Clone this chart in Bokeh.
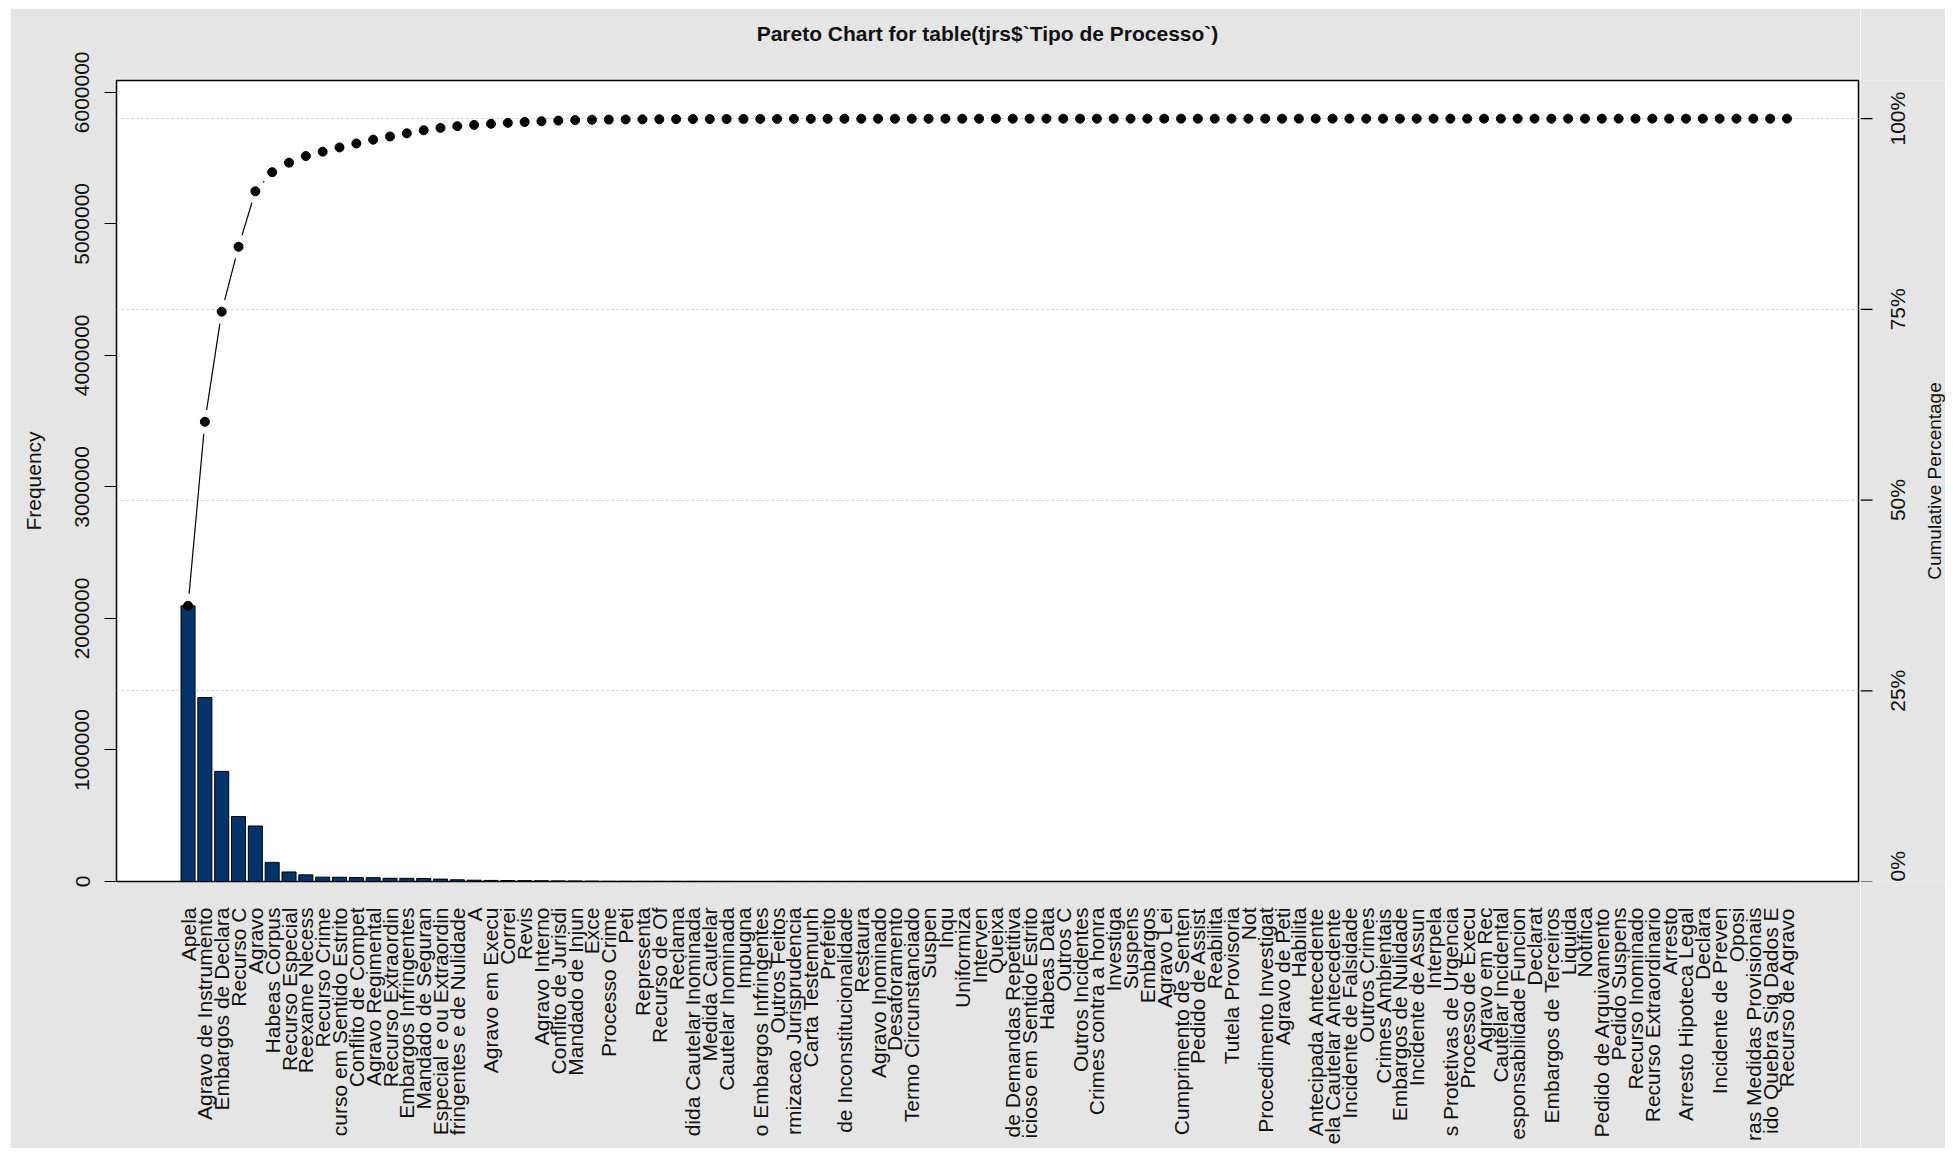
import math
import numpy as np
from bokeh.plotting import figure
from bokeh.models import Range1d, LinearAxis, FixedTicker, Spacer
from bokeh.layouts import row, column
from bokeh.core.properties import value
from bokeh.embed import file_html
from bokeh.resources import INLINE

categories = [
    "Apela", "Agravo de Instrumento", "Embargos de Declara", "Recurso C", "Agravo",
    "Habeas Corpus", "Recurso Especial", "Reexame Necess", "Recurso Crime",
    "curso em Sentido Estrito", "Conflito de Compet", "Agravo Regimental",
    "Recurso Extraordin", "Embargos Infringentes", "Mandado de Seguran",
    "Especial e ou Extraordin", "fringentes e de Nulidade", "A", "Agravo em Execu",
    "Correi", "Revis", "Agravo Interno", "Conflito de Jurisdi", "Mandado de Injun",
    "Exce", "Processo Crime", "Peti", "Representa", "Recurso de Of", "Reclama",
    "dida Cautelar Inominada", "Medida Cautelar", "Cautelar Inominada", "Impugna",
    "o Embargos Infringentes", "Outros Feitos", "rmizacao Jurisprudencia",
    "Carta Testemunh", "Prefeito", "de Inconstitucionalidade", "Restaura",
    "Agravo Inominado", "Desaforamento", "Termo Circunstanciado", "Suspen", "Inqu",
    "Uniformiza", "Interven", "Queixa", "de Demandas Repetitiva",
    "icioso em Sentido Estrito", "Habeas Data", "Outros C", "Outros Incidentes",
    "Crimes contra a honra", "Investiga", "Suspens", "Embargos", "Agravo Lei",
    "Cumprimento de Senten", "Pedido de Assist", "Reabilita", "Tutela Provisoria",
    "Not", "Procedimento Investigat", "Agravo de Peti", "Habilita",
    "Antecipada Antecedente", "ela Cautelar Antecedente", "Incidente de Falsidade",
    "Outros Crimes", "Crimes Ambientais", "Embargos de Nulidade", "Incidente de Assun",
    "Interpela", "s Protetivas de Urgencia", "Processo de Execu", "Agravo em Rec",
    "Cautelar Incidental", "esponsabilidade Funcion", "Declarat",
    "Embargos de Terceiros", "Liquida", "Notifica", "Pedido de Arquivamento",
    "Pedido Suspens", "Recurso Inominado", "Recurso Extraordinario", "Arresto",
    "Arresto Hipoteca Legal", "Declara", "Incidente de Preven", "Oposi",
    "ras Medidas Provisionais", "ido Quebra Sig Dados E", "Recurso de Agravo",
]

frequencies = [
    2096312, 1398745, 837120, 493410, 421870, 145230, 72410, 50380, 33150, 32240,
    30120, 28950, 24310, 23980, 23120, 18240, 12960, 9870, 8120, 7340,
    6580, 5620, 4710, 3890, 2760, 1150, 980, 850, 720, 610,
    520, 450, 390, 340, 300, 260, 230, 200, 175, 150,
    130, 115, 100, 88, 76, 66, 58, 50, 44, 38,
    33, 29, 25, 22, 19, 17, 15, 13, 11, 10,
    9, 8, 7, 6, 6, 5, 5, 4, 4, 4,
    3, 3, 3, 3, 2, 2, 2, 2, 2, 2,
    1, 1, 1, 1, 1, 1, 1, 1, 1, 1,
    1, 1, 1, 1, 1, 1,
]

freq_ticks = [0, 1000000, 2000000, 3000000, 4000000, 5000000, 6000000]
pct_ticks = [0, 25, 50, 75, 100]
pct_labels = ["0%", "25%", "50%", "75%", "100%"]
title_text = "Pareto Chart for table(tjrs$`Tipo de Processo`)"

n = len(categories)
total = float(sum(frequencies))
cum = np.cumsum(frequencies).astype(float)
xs = np.arange(n) + 0.5
pct_pos = [total * t / 100.0 for t in pct_ticks]

FONT = "Liberation Sans"
TXT = "#111111"
BG = "#e5e5e5"
H = 1140
BL, BR, BT, BB = 106, 2, 72, 267
frame_w = 1742
W = BL + frame_w + BR
frame_h = H - BT - BB
W2 = 1945 - 10 - W  # side panel holding the right-hand axis texts

x0, x1 = -3.75, n + 3.75
y0, y1 = 0.0, 1.05 * total
sy = frame_h / (y1 - y0)

p = figure(width=W, height=H, output_backend="svg", toolbar_location=None,
           x_range=Range1d(x0, x1), y_range=Range1d(y0, y1),
           min_border_left=BL, min_border_right=BR, min_border_top=BT, min_border_bottom=BB)

p.border_fill_color = BG
p.background_fill_color = "white"
p.outline_line_color = "black"
p.outline_line_width = 1.5

# bottom axis: category names
xa = p.below[0]
xa.ticker = FixedTicker(ticks=list(xs))
xa.major_label_overrides = {float(x): c for x, c in zip(xs, categories)}
xa.major_label_orientation = math.pi / 2
xa.major_label_text_font = FONT
xa.major_label_text_font_size = "21px"
xa.major_label_text_color = TXT
xa.major_label_standoff = 26
xa.major_tick_out = 0
xa.major_tick_in = 0
xa.major_tick_line_color = None
xa.minor_tick_line_color = None
xa.axis_line_color = None
p.xgrid.visible = False

# title drawn as the label of a tick-less top axis
ta = LinearAxis(ticker=FixedTicker(ticks=[]))
ta.axis_label = title_text
ta.axis_label_text_font = FONT
ta.axis_label_text_font_size = "21px"
ta.axis_label_text_font_style = "bold"
ta.axis_label_text_color = TXT
ta.axis_label_standoff = 36
ta.major_tick_out = 0
ta.major_tick_in = 0
ta.major_label_standoff = 0
ta.axis_line_color = None
ta.major_tick_line_color = None
ta.minor_tick_line_color = None
p.add_layout(ta, "above")

# left axis
ya = p.left[0]
ya.ticker = FixedTicker(ticks=freq_ticks)
ya.major_label_overrides = {t: str(t) for t in freq_ticks}
ya.major_label_orientation = "vertical"
ya.major_label_text_font = FONT
ya.major_label_text_font_size = "21px"
ya.major_label_text_color = TXT
ya.major_label_standoff = 15
ya.major_tick_out = 12
ya.major_tick_in = 0
ya.minor_tick_line_color = None
ya.axis_line_color = None
ya.axis_label = "Frequency"
ya.axis_label_text_font = FONT
ya.axis_label_text_font_size = "21px"
ya.axis_label_text_font_style = "normal"
ya.axis_label_text_color = TXT
ya.axis_label_standoff = 28

# grid at cumulative percentage levels
p.ygrid.ticker = FixedTicker(ticks=pct_pos)
p.ygrid.grid_line_color = "#c8c8c8"
p.ygrid.grid_line_dash = "2 3"
p.ygrid.grid_line_width = 1

# bars
p.vbar(x=xs, top=frequencies, bottom=0, width=1 / 1.2,
       fill_color="#02346b", line_color="black", line_width=1)

# cumulative line (type "b": segments with gaps around points)
sx = frame_w / (x1 - x0)
gap = 12.0
X0, Y0, X1, Y1 = [], [], [], []
for i in range(n - 1):
    dxp = (xs[i + 1] - xs[i]) * sx
    dyp = (cum[i + 1] - cum[i]) * sy
    L = math.hypot(dxp, dyp)
    if L > 2 * gap:
        f = gap / L
        X0.append(xs[i] + (xs[i + 1] - xs[i]) * f)
        Y0.append(cum[i] + (cum[i + 1] - cum[i]) * f)
        X1.append(xs[i + 1] - (xs[i + 1] - xs[i]) * f)
        Y1.append(cum[i + 1] - (cum[i + 1] - cum[i]) * f)
p.segment(x0=X0, y0=Y0, x1=X1, y1=Y1, line_color="black", line_width=1.2)
p.scatter(x=xs, y=cum, size=9, fill_color="black", line_color="black")

# right-hand cumulative percentage axis (ticks + bottom-to-top labels),
# drawn in a side panel whose frame lines up with the main frame
p2 = figure(width=W2, height=H, output_backend="svg", toolbar_location=None,
            x_range=Range1d(0, W2), y_range=Range1d(y0, y1),
            min_border_left=0, min_border_right=0, min_border_top=BT, min_border_bottom=BB)
p2.axis.visible = False
p2.grid.visible = False
p2.outline_line_color = None
p2.background_fill_color = BG
p2.border_fill_color = BG
p2.segment(x0=[0] * len(pct_pos), y0=pct_pos, x1=[12] * len(pct_pos), y1=pct_pos,
           line_color="black", line_width=1.2)
aligns = ["left" if t == 0 else "center" for t in pct_ticks]
p2.text(x=[37] * len(pct_pos), y=pct_pos, text=pct_labels, angle=math.pi / 2,
        text_align=aligns, text_baseline="middle",
        text_font=value(FONT), text_font_size="21px", text_color=TXT)
p2.text(x=[74], y=[(y0 + y1) / 2], text=["Cumulative Percentage"], angle=math.pi / 2,
        text_align="center", text_baseline="middle",
        text_font=value(FONT), text_font_size="19px", text_color=TXT)

layout = column(Spacer(height=8), row(Spacer(width=10), p, p2))
open("out.html", "w").write(file_html(layout, INLINE))
